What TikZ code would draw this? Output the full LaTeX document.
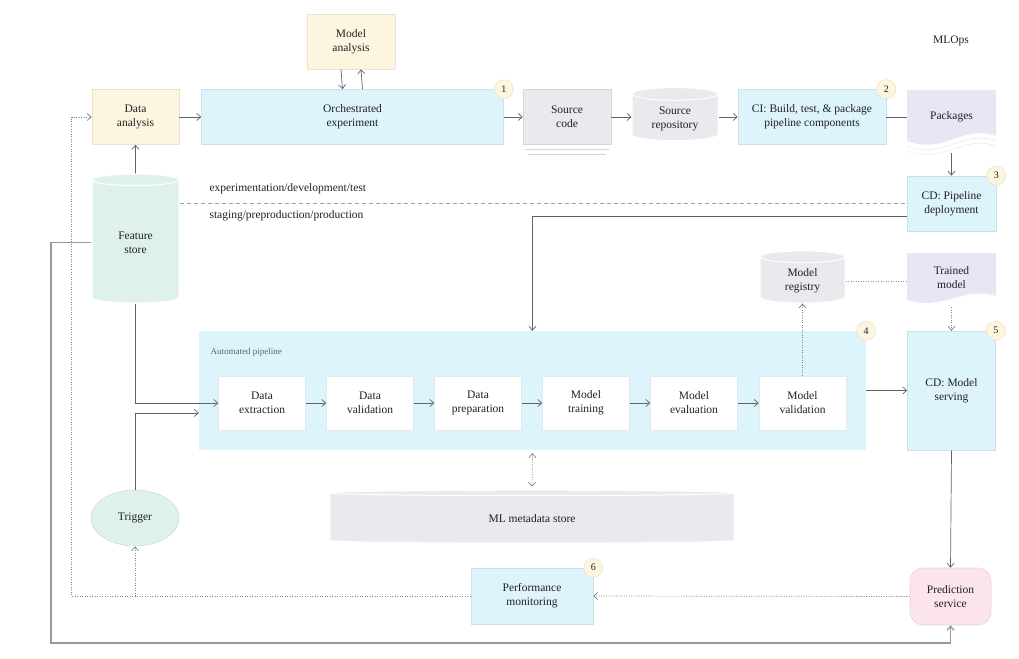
\documentclass[tikz,border=0pt]{standalone}
\usepackage{fontspec}
\setmainfont{Liberation Serif}
\usetikzlibrary{arrows.meta,shapes.geometric,backgrounds}

\definecolor{cblue}{HTML}{DEF4FC}
\definecolor{cyel}{HTML}{FCF6E0}
\definecolor{cgray}{HTML}{E8EAED}
\definecolor{cpurp}{HTML}{EAE5F5}
\definecolor{cmint}{HTML}{DFF1EC}
\definecolor{cpink}{HTML}{FCE4EC}
\definecolor{cline}{HTML}{5F6368}
\definecolor{ctext}{HTML}{202124}

\begin{document}
\begin{tikzpicture}[x=1pt,y=-1pt,
  font=\fontsize{11.5}{14}\selectfont, text=ctext,
  >={Straight Barb[length=4pt,width=7pt]},
  blk/.style={rectangle,align=center,inner sep=2pt,fill=#1,draw=#1!92!black,line width=0.6pt},
  dbase/.style={cylinder,shape border rotate=90,cylinder uses custom fill,
    cylinder body fill=#1,cylinder end fill=#1,draw=white,line width=1pt,align=center,inner sep=2pt},
  stage/.style={rectangle,align=center,fill=white,draw=cblue!80!gray!60,line width=0.5pt,
    minimum width=87pt,minimum height=54pt},
  badge/.style={circle,fill=cyel,draw=cyel!80!brown!90,line width=0.6pt,minimum size=19pt,
    inner sep=0pt,font=\fontsize{10}{12}\selectfont},
  arr/.style={->,cline,line width=0.7pt},
  dotarr/.style={->,cline!80,line width=0.7pt,dash pattern=on 1pt off 1.5pt},
  dotln/.style={cline!70,line width=0.7pt,dash pattern=on 1pt off 1.5pt},
  envln/.style={cline!60,line width=1.1pt,dash pattern=on 4pt off 3pt},
  stack/.style={cpurp!85!gray!45,line width=0.7pt}]

\useasboundingbox (0,0) rectangle (1019,658);

% top row: experimentation
\node[blk=cyel,minimum width=88pt,minimum height=55pt] (manl) at (351,41.5) {Model\\analysis};
\node[blk=cyel,minimum width=87pt,minimum height=55pt] (dana) at (135.5,117) {Data\\analysis};
\node[blk=cblue,minimum width=302pt,minimum height=55pt] (orch) at (352.5,117) {Orchestrated\\experiment};
\node[blk=cgray,minimum width=88pt,minimum height=55pt] (srccode) at (567,117) {Source\\code};
\node[dbase=cgray,aspect=0.25,minimum width=86pt,minimum height=53pt] (srcrepo) at (675,118.5) {Source\\repository};
\node[blk=cblue,minimum width=148pt,minimum height=55pt] (ci) at (812,117) {CI: Build, test, \& package\\pipeline components};
\node[align=center,minimum width=89pt,minimum height=54pt] (pkgs) at (951.5,117) {Packages};
\node (mlops) at (951,41) {MLOps};

% production side
\node[blk=cblue,minimum width=89pt,minimum height=55pt] (cdpipe) at (951.5,203.5) {CD: Pipeline\\deployment};
\node[dbase=cmint,aspect=0.3,minimum width=87pt,minimum height=129pt] (feat) at (135.5,242.5) {Feature\\store};
\node[dbase=cgray,aspect=0.3,minimum width=85pt,minimum height=52pt] (reg) at (802.5,281) {Model\\registry};
\node[align=center,minimum width=89pt,minimum height=50pt] (trained) at (951.5,278) {Trained\\model};
\node[anchor=west] (envtop) at (206,189) {experimentation/development/test};
\node[anchor=west] (envbot) at (206,216) {staging/preproduction/production};

% automated pipeline
\node[rectangle,fill=cblue,minimum width=667pt,minimum height=119pt] (auto) at (532.5,390.5) {};
\node[anchor=west,font=\fontsize{9}{11}\selectfont,text=cline] (autolbl) at (207,352) {Automated pipeline};
\node[stage] (dext) at (262,403) {Data\\extraction};
\node[stage] (dval) at (370,403) {Data\\validation};
\node[stage] (dprep) at (478,403) {Data\\preparation};
\node[stage] (mtrain) at (586,403) {Model\\training};
\node[stage] (meval) at (694,403) {Model\\evaluation};
\node[stage] (mval) at (802.5,403) {Model\\validation};
\node[blk=cblue,minimum width=88pt,minimum height=119pt] (cdserve) at (951.5,390.5) {CD: Model\\serving};

% bottom row
\node[ellipse,fill=cmint,draw=cmint!92!black,line width=0.6pt,minimum width=88pt,minimum height=56pt] (trig) at (135,518) {Trigger};
\node[dbase=cgray,aspect=0.06,minimum width=404pt,minimum height=53pt] (meta) at (532,518.5) {ML metadata store};
\node[blk=cblue,minimum width=122pt,minimum height=56pt] (perf) at (532,596) {Performance\\monitoring};
\node[blk=cpink,rounded corners=13pt,minimum width=81pt,minimum height=57pt] (pred) at (950.5,596.5) {Prediction\\service};

% document shapes
\begin{scope}[on background layer]
  \fill[cpurp] (907,90) -- (996,90) -- (996,136) .. controls (962,124) and (945,155) .. (907,141) -- cycle;
  \fill[cpurp] (907,253) -- (996,253) -- (996,296) .. controls (962,286) and (945,311) .. (907,300) -- cycle;
\end{scope}
\draw[stack] (907,146) .. controls (945,160) and (962,129) .. (996,141);
\draw[stack] (907,151) .. controls (945,165) and (962,134) .. (996,146);
\draw[cgray!80!gray,line width=0.8pt] ([xshift=2pt,yshift=-5pt]srccode.south west) -- ([xshift=-2pt,yshift=-5pt]srccode.south east);
\draw[cgray!80!gray,line width=0.8pt] ([xshift=5pt,yshift=-9.5pt]srccode.south west) -- ([xshift=-5pt,yshift=-9.5pt]srccode.south east);

% badges
\node[badge] (b1) at (orch.north east) {1};
\node[badge] (b2) at (ci.north east) {2};
\node[badge] (b3) at (cdpipe.north east) {3};
\node[badge] (b4) at (auto.north east) {4};
\node[badge] (b5) at (cdserve.north east) {5};
\node[badge] (b6) at (perf.north east) {6};

% connectors
\draw[arr] ([xshift=-10pt]manl.south) -- ([xshift=-10pt]orch.north);
\draw[arr] ([xshift=10pt]orch.north) -- ([xshift=10pt]manl.south);
\draw[arr] (dana) -- (orch);
\draw[arr] (orch) -- (srccode);
\draw[arr] (srccode) -- (srcrepo.west |- srccode.east);
\draw[arr] (srcrepo.east |- ci.west) -- (ci);
\draw[cline,line width=0.7pt] (ci.east) -- (pkgs.west |- ci.east);
\draw[arr] ([yshift=-9pt]pkgs.south) -- (cdpipe.north);
\draw[arr] (feat.north) -- (dana.south);
\draw[envln] (feat.east |- cdpipe.west) -- (cdpipe.west);
\draw[arr] ([yshift=-13pt]cdpipe.west) -| (auto.north);
\draw[arr] (feat.south) |- (dext.west);
\draw[arr] (trig.north) |- ([yshift=-22.5pt]auto.west);
\foreach \a/\b in {dext/dval,dval/dprep,dprep/mtrain,mtrain/meval,meval/mval}
  \draw[arr] (\a) -- (\b);
\draw[dotarr] (mval.north) -- (reg.south);
\draw[dotln] (reg.east) -- (reg.east -| trained.west);
\draw[dotarr] ([yshift=-4pt]trained.south) -- (cdserve.north);
\draw[arr] (auto.east) -- (cdserve.west);
\draw[dotarr,<->] ([yshift=-3pt]auto.south) -- ([yshift=3pt]meta.north);
\draw[arr] (cdserve.south) -- (pred.north);
\draw[dotarr] (pred.west) -- (perf.east);
\draw[dotarr] (perf.west) -| ([xshift=-20pt]dana.west) -- (dana.west); % back to analysis
\draw[dotarr] (trig.south |- perf.west) -- (trig.south);
\coordinate (lowleft) at (51,643);
\draw[arr,cline!65,line width=1.3pt] (feat.west) -| (lowleft) -| (pred.south);
\end{tikzpicture}
\end{document}
